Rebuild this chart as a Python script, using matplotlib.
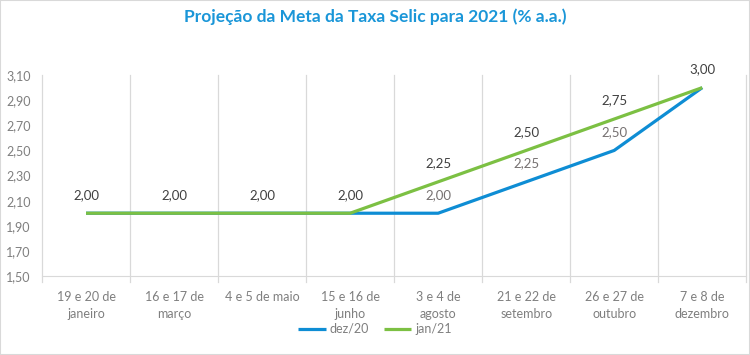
import matplotlib
matplotlib.use('Agg')
import matplotlib.pyplot as plt
import numpy as np
from matplotlib.patches import Rectangle

# Dados
reunioes = ['19 e 20 de\njaneiro', '16 e 17 de\nmarço', '4 e 5 de maio', '15 e 16 de\njunho',
            '3 e 4 de\nagosto', '21 e 22 de\nsetembro', '26 e 27 de\noutubro', '7 e 8 de\ndezembro']
dez20 = [2.00, 2.00, 2.00, 2.00, 2.00, 2.25, 2.50, 3.00]
jan21 = [2.00, 2.00, 2.00, 2.00, 2.25, 2.50, 2.75, 3.00]
rotulos_dez = [4, 5, 6]  # pontos com rotulo visivel da serie dez/20
yticks = [1.50, 1.70, 1.90, 2.10, 2.30, 2.50, 2.70, 2.90, 3.10]

AZUL = '#0E8DD4'
VERDE = '#7CC043'
CINZA = '#7F7F7F'

plt.rcParams['font.family'] = ['Lato', 'DejaVu Sans']

def fmt(v):
    return '{:.2f}'.format(v).replace('.', ',')

fig = plt.figure(figsize=(7.5, 3.55), dpi=100)
ax = fig.add_axes([0.056, 0.2225, 0.939, 0.566])

x = np.arange(len(reunioes))
ax.plot(x, dez20, color=AZUL, lw=2.3, label='dez/20', solid_capstyle='butt', zorder=3)
ax.plot(x, jan21, color=VERDE, lw=2.3, label='jan/21', solid_capstyle='butt', zorder=4)

for i, v in enumerate(jan21):
    ax.annotate(fmt(v), (x[i], v), xytext=(0, 9), textcoords='offset points',
                ha='center', va='bottom', fontsize=9.5, color='#404040')
for i in rotulos_dez:
    ax.annotate(fmt(dez20[i]), (x[i], dez20[i]), xytext=(0, 9), textcoords='offset points',
                ha='center', va='bottom', fontsize=9.5, color='#767171')

ax.set_xlim(-0.5, len(reunioes) - 0.5)
ax.set_ylim(1.50, 3.10)
ax.set_yticks(yticks)
ax.set_yticklabels([fmt(v) for v in yticks], fontsize=9, color=CINZA)
ax.set_xticks(x)
ax.set_xticklabels(reunioes, fontsize=9, color=CINZA, linespacing=1.45)
ax.tick_params(axis='x', length=0, pad=11)
ax.tick_params(axis='y', length=0, pad=8)

# linhas verticais entre categorias
for b in np.arange(-0.5, len(reunioes), 1.0):
    ax.axvline(b, ymin=-0.03, ymax=1, color='#D9D9D9', lw=0.9, clip_on=False, zorder=1)

for s in ['top', 'right', 'left']:
    ax.spines[s].set_visible(False)
ax.spines['bottom'].set_color('#D9D9D9')

fig.suptitle('Projeção da Meta da Taxa Selic para 2021 (% a.a.)', x=0.5, y=0.975,
             fontsize=12.5, fontweight='bold', color='#1A96D8')

fig.legend(loc='lower center', bbox_to_anchor=(0.5, 0.025), ncol=2, frameon=False,
           fontsize=9, handlelength=2.2, columnspacing=1.2, handletextpad=0.3,
           labelcolor=CINZA)

fig.patches.append(Rectangle((0, 0), 1, 1, transform=fig.transFigure, fill=False,
                             edgecolor='#D9D9D9', lw=1.5))

fig.savefig('out.png', dpi=100)
